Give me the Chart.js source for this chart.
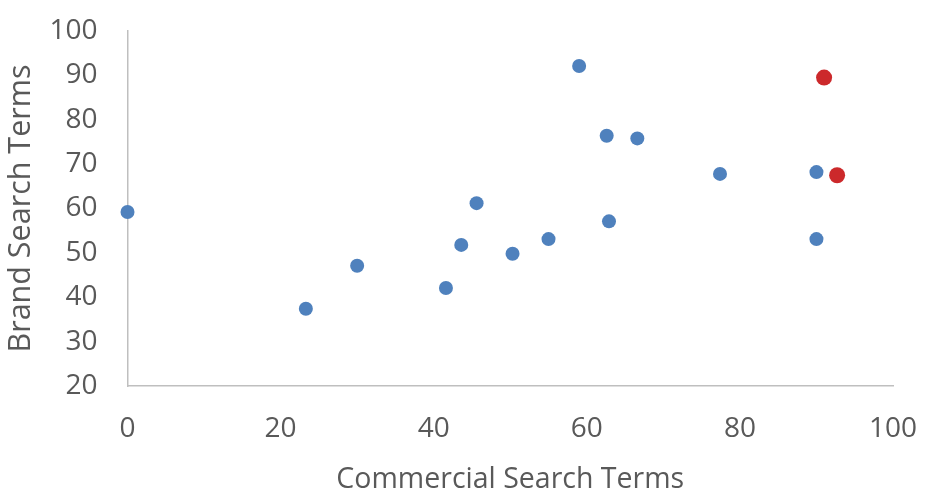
<!DOCTYPE html>
<html lang="en">
<head>
  <meta charset="UTF-8">
  <title>Brand vs Commercial Search Terms</title>
  <script src="https://cdn.jsdelivr.net/npm/chart.js"></script>
  <style>
    html, body {
      margin: 0;
      padding: 0;
      background: #fff;
    }
    canvas {
      display: block;
    }
  </style>
</head>
<body>
  <canvas id="scatterChart" width="931" height="497"></canvas>

  <script>
    // blue points
    const commercialTerms = [0, 23.3, 30.0, 41.6, 43.6, 45.6, 50.3, 55.0, 59.0, 62.6, 62.9, 66.6, 77.4, 90.0, 90.0];
    const brandTerms = [59.2, 37.4, 47.1, 42.1, 51.8, 61.2, 49.8, 53.1, 92.1, 76.4, 57.1, 75.8, 67.8, 68.2, 53.1];
    // the two highlighted (red) points
    const highlightCommercial = [91.0, 92.7];
    const highlightBrand = [89.5, 67.5];

    const xTicks = [0, 20, 40, 60, 80, 100];
    const yTicks = [20, 30, 40, 50, 60, 70, 80, 90, 100];

    const toPoints = (xs, ys) => xs.map((x, i) => ({ x: x, y: ys[i] }));

    const textColor = '#595959';
    const fontFamily = '"Open Sans", sans-serif';

    new Chart(document.getElementById('scatterChart'), {
      type: 'scatter',
      data: {
        datasets: [
          {
            label: 'Search terms',
            data: toPoints(commercialTerms, brandTerms),
            backgroundColor: '#4f81bd',
            borderWidth: 0,
            pointRadius: 7,
            clip: false
          },
          {
            label: 'Highlighted',
            data: toPoints(highlightCommercial, highlightBrand),
            backgroundColor: '#cc292b',
            borderWidth: 0,
            pointRadius: 8,
            clip: false
          }
        ]
      },
      options: {
        responsive: false,
        animation: false,
        layout: {
          padding: { left: 3, right: 38, top: 31, bottom: 0 }
        },
        scales: {
          x: {
            type: 'linear',
            min: 0,
            max: 100,
            afterBuildTicks: scale => { scale.ticks = xTicks.map(v => ({ value: v })); },
            afterFit: scale => {
              scale.height = 111;
              // let the layout padding decide the edges, not label overhang
              scale.paddingLeft = 0;
              scale.paddingRight = 0;
            },
            grid: { display: false, drawTicks: false },
            border: { display: true, color: '#bfbfbf', width: 1.5 },
            ticks: {
              color: textColor,
              padding: 26,
              font: { family: fontFamily, size: 28 }
            },
            title: {
              display: true,
              text: 'Commercial Search Terms',
              color: textColor,
              padding: { top: 6, bottom: 0 },
              font: { family: fontFamily, size: 28.5 }
            }
          },
          y: {
            type: 'linear',
            min: 20,
            max: 100,
            afterBuildTicks: scale => { scale.ticks = yTicks.map(v => ({ value: v })); },
            afterFit: scale => {
              scale.width = 124.5;
              scale.paddingTop = 0;
              scale.paddingBottom = 0;
            },
            grid: { display: false, drawTicks: false },
            border: { display: true, color: '#bfbfbf', width: 1.5 },
            ticks: {
              color: textColor,
              padding: 30,
              font: { family: fontFamily, size: 28 }
            },
            title: {
              display: true,
              text: 'Brand Search Terms',
              color: textColor,
              padding: { top: 0, bottom: 0 },
              font: { family: fontFamily, size: 30.5 }
            }
          }
        },
        plugins: {
          legend: { display: false },
          tooltip: { enabled: false }
        }
      }
    });
  </script>
</body>
</html>
